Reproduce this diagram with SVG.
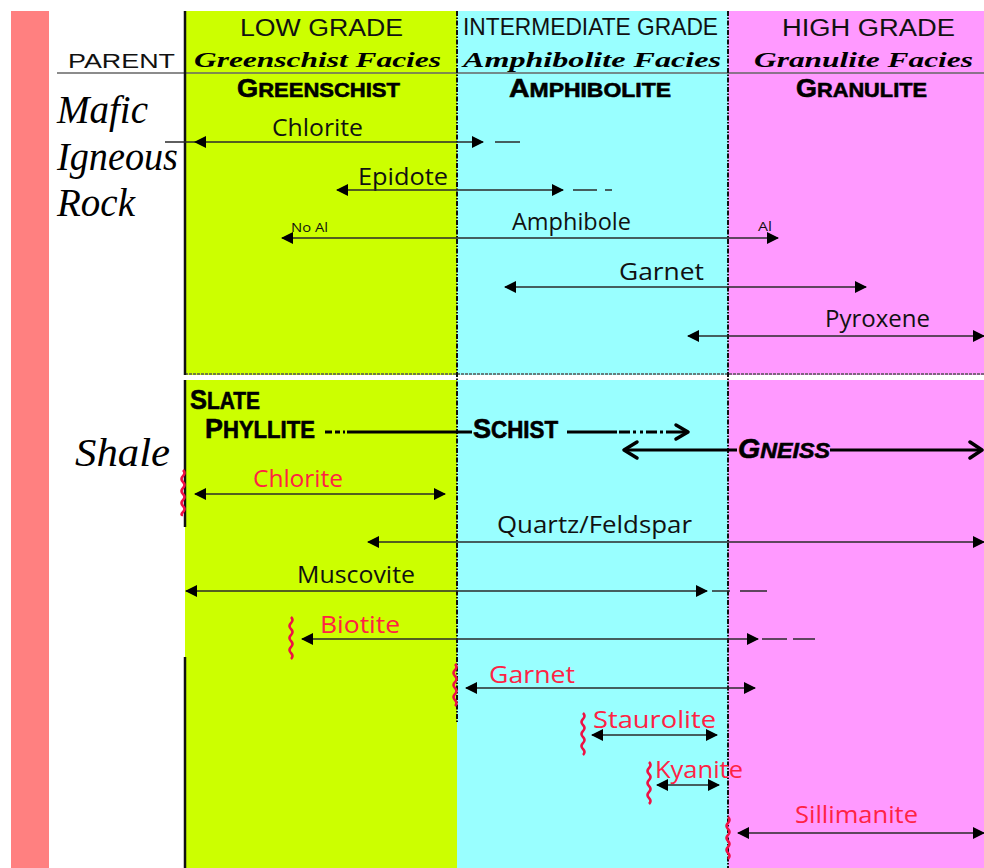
<svg xmlns="http://www.w3.org/2000/svg" width="984" height="868" viewBox="0 0 984 868">
<style>
.hdr{font-family:"Liberation Sans",Arial,sans-serif;fill:#111}
.fac{font-family:"Liberation Serif","Times New Roman",serif;font-weight:bold;font-style:italic;font-size:20px;fill:#000}
.blk{font-family:"Liberation Sans",Arial,sans-serif;font-weight:bold;fill:#000;stroke:#000;stroke-width:0.6}
.par{font-family:"Liberation Serif","Times New Roman",serif;font-style:italic;fill:#000}
.min{font-family:"Open Sans","DejaVu Sans",sans-serif;font-size:23px;fill:#111}
.red{fill:#ff2244}
.sm{font-family:"Open Sans","DejaVu Sans",sans-serif;font-size:12px;fill:#111}
.ln{stroke:#2a2a2a;stroke-width:1.5;fill:none}
.bold{stroke:#000;stroke-width:3;fill:none}
.chev{stroke:#000;stroke-width:3.5;fill:none;stroke-linecap:round;stroke-linejoin:round}
.sq{stroke:#ee1144;stroke-width:2.5;fill:none}
.div{stroke:#111;stroke-width:2;stroke-dasharray:5 1.5 1.5 1.5;fill:none}
</style>
<defs>
<marker id="ah" markerUnits="userSpaceOnUse" markerWidth="12" markerHeight="12" refX="11" refY="6" orient="auto-start-reverse" viewBox="0 0 12 12">
<path d="M0,0 L12,6 L0,12 z" fill="#000"/>
</marker>
</defs>
<rect x="0" y="0" width="984" height="868" fill="#fff"/>
<rect x="11" y="11" width="38" height="857" fill="#ff8080"/>
<g id="columns">
<rect x="185" y="11" width="272" height="364" fill="#ccff00"/>
<rect x="457" y="11" width="271" height="364" fill="#99ffff"/>
<rect x="728" y="11" width="256" height="364" fill="#ff99ff"/>
<rect x="185" y="380" width="272" height="488" fill="#ccff00"/>
<rect x="457" y="380" width="271" height="488" fill="#99ffff"/>
<rect x="728" y="380" width="256" height="488" fill="#ff99ff"/>
<line x1="185" y1="374" x2="984" y2="374" stroke="#555" stroke-width="1.5" stroke-dasharray="3 1"/>
<line x1="57" y1="73" x2="984" y2="73" stroke="#666" stroke-width="1.5"/>
<line x1="185" y1="11" x2="185" y2="375" stroke="#111" stroke-width="2.5"/>
<line x1="185" y1="380" x2="185" y2="527" stroke="#111" stroke-width="2.5"/>
<line x1="185" y1="657" x2="185" y2="868" stroke="#111" stroke-width="2.5"/>
<line class="div" x1="457" y1="11" x2="457" y2="723"/>
<line class="div" x1="728" y1="11" x2="728" y2="868"/>
</g>
<g id="header">
<text class="hdr" x="240" y="36" font-size="23" textLength="163" lengthAdjust="spacingAndGlyphs">LOW GRADE</text>
<text class="hdr" x="463" y="35" font-size="24" textLength="255" lengthAdjust="spacingAndGlyphs">INTERMEDIATE GRADE</text>
<text class="hdr" x="782" y="36" font-size="23" textLength="173" lengthAdjust="spacingAndGlyphs">HIGH GRADE</text>
<text class="hdr" x="68" y="68" font-size="21" textLength="107" lengthAdjust="spacingAndGlyphs">PARENT</text>
<text class="fac" x="194" y="67" textLength="247" lengthAdjust="spacingAndGlyphs">Greenschist Facies</text>
<text class="fac" x="463" y="67" textLength="258" lengthAdjust="spacingAndGlyphs">Amphibolite Facies</text>
<text class="fac" x="754" y="67" textLength="219" lengthAdjust="spacingAndGlyphs">Granulite Facies</text>
<text class="blk" x="237" y="97" textLength="163" lengthAdjust="spacingAndGlyphs"><tspan font-size="26">G</tspan><tspan font-size="21">REENSCHIST</tspan></text>
<text class="blk" x="509" y="97" textLength="162" lengthAdjust="spacingAndGlyphs"><tspan font-size="26">A</tspan><tspan font-size="21">MPHIBOLITE</tspan></text>
<text class="blk" x="796" y="97" textLength="131" lengthAdjust="spacingAndGlyphs"><tspan font-size="26">G</tspan><tspan font-size="21">RANULITE</tspan></text>
</g>
<g id="parents">
<text class="par" x="57" y="123" font-size="39">Mafic</text>
<text class="par" x="57" y="170" font-size="39" textLength="121" lengthAdjust="spacingAndGlyphs">Igneous</text>
<text class="par" x="57" y="216" font-size="39">Rock</text>
<text class="par" x="75" y="466" font-size="40" textLength="95" lengthAdjust="spacingAndGlyphs">Shale</text>
</g>
<g id="rocks">
<text class="blk" x="190" y="409" textLength="70" lengthAdjust="spacingAndGlyphs"><tspan font-size="28">S</tspan><tspan font-size="23">LATE</tspan></text>
<text class="blk" x="205" y="438" textLength="110" lengthAdjust="spacingAndGlyphs"><tspan font-size="28">P</tspan><tspan font-size="23">HYLLITE</tspan></text>
<text class="blk" x="473" y="438" textLength="85" lengthAdjust="spacingAndGlyphs"><tspan font-size="28">S</tspan><tspan font-size="23">CHIST</tspan></text>
<text class="blk" x="738" y="458" font-style="italic" textLength="92" lengthAdjust="spacingAndGlyphs"><tspan font-size="27">G</tspan><tspan font-size="22">NEISS</tspan></text>
</g>
<g id="labels">
<text class="min" x="272" y="136" textLength="91" lengthAdjust="spacingAndGlyphs">Chlorite</text>
<text class="min" x="358" y="185" textLength="90" lengthAdjust="spacingAndGlyphs">Epidote</text>
<text class="sm" x="291" y="232" textLength="37" lengthAdjust="spacingAndGlyphs">No Al</text>
<text class="min" x="512" y="230" textLength="119" lengthAdjust="spacingAndGlyphs">Amphibole</text>
<text class="sm" x="758" y="231" textLength="14" lengthAdjust="spacingAndGlyphs">Al</text>
<text class="min" x="619" y="280" textLength="85" lengthAdjust="spacingAndGlyphs">Garnet</text>
<text class="min" x="825" y="327" textLength="105" lengthAdjust="spacingAndGlyphs">Pyroxene</text>
<text class="min red" x="253" y="487" textLength="90" lengthAdjust="spacingAndGlyphs">Chlorite</text>
<text class="min" x="497" y="533" textLength="195" lengthAdjust="spacingAndGlyphs">Quartz/Feldspar</text>
<text class="min" x="297" y="583" textLength="118" lengthAdjust="spacingAndGlyphs">Muscovite</text>
<text class="min red" x="320" y="633" textLength="80" lengthAdjust="spacingAndGlyphs">Biotite</text>
<text class="min red" x="489" y="683" textLength="86" lengthAdjust="spacingAndGlyphs">Garnet</text>
<text class="min red" x="593" y="728" textLength="123" lengthAdjust="spacingAndGlyphs">Staurolite</text>
<text class="min red" x="655" y="778" textLength="88" lengthAdjust="spacingAndGlyphs">Kyanite</text>
<text class="min red" x="795" y="823" textLength="123" lengthAdjust="spacingAndGlyphs">Sillimanite</text>
</g>
<g id="connectors">
<line class="ln" x1="165" y1="142" x2="195" y2="142"/>
<line class="ln" x1="195" y1="142" x2="483" y2="142" marker-start="url(#ah)" marker-end="url(#ah)"/>
<line class="ln" x1="495" y1="142" x2="520" y2="142"/>
<line class="ln" x1="337" y1="190" x2="563" y2="190" marker-start="url(#ah)" marker-end="url(#ah)"/>
<line class="ln" x1="573" y1="190" x2="597" y2="190"/>
<line class="ln" x1="605" y1="190" x2="612" y2="190"/>
<line class="ln" x1="282" y1="238" x2="778" y2="238" marker-start="url(#ah)" marker-end="url(#ah)"/>
<line class="ln" x1="505" y1="287" x2="866" y2="287" marker-start="url(#ah)" marker-end="url(#ah)"/>
<line class="ln" x1="688" y1="336" x2="984" y2="336" marker-start="url(#ah)" marker-end="url(#ah)"/>
<line class="bold" x1="325" y1="432" x2="332" y2="432"/>
<line class="bold" x1="335" y1="432" x2="340" y2="432"/>
<line class="bold" x1="343" y1="432" x2="345" y2="432"/>
<line class="bold" x1="347" y1="432" x2="472" y2="432"/>
<line class="bold" x1="567" y1="432" x2="617" y2="432"/>
<path class="bold" d="M619,432 H630 M633,432 H636 M640,432 H643 M646,432 H657 M660,432 H663 M666,432 H686"/>
<path class="chev" d="M676,425 L688,432 L676,439"/>
<line class="bold" x1="624" y1="450" x2="737" y2="450"/>
<path class="chev" d="M637,442 L624,450 L637,458"/>
<line class="bold" x1="830" y1="450" x2="982" y2="450"/>
<path class="chev" d="M970,442 L982,450 L970,458"/>
<line class="ln" x1="195" y1="494" x2="445" y2="494" marker-start="url(#ah)" marker-end="url(#ah)"/>
<line class="ln" x1="368" y1="542" x2="984" y2="542" marker-start="url(#ah)" marker-end="url(#ah)"/>
<line class="ln" x1="186" y1="591" x2="707" y2="591" marker-start="url(#ah)" marker-end="url(#ah)"/>
<line class="ln" x1="712" y1="591" x2="730" y2="591"/>
<line class="ln" x1="740" y1="591" x2="767" y2="591"/>
<line class="ln" x1="302" y1="639" x2="758" y2="639" marker-start="url(#ah)" marker-end="url(#ah)"/>
<line class="ln" x1="762" y1="639" x2="787" y2="639"/>
<line class="ln" x1="793" y1="639" x2="815" y2="639"/>
<line class="ln" x1="466" y1="688" x2="755" y2="688" marker-start="url(#ah)" marker-end="url(#ah)"/>
<line class="ln" x1="592" y1="735" x2="717" y2="735" marker-start="url(#ah)" marker-end="url(#ah)"/>
<line class="ln" x1="657" y1="785" x2="719" y2="785" marker-start="url(#ah)" marker-end="url(#ah)"/>
<line class="ln" x1="738" y1="833" x2="984" y2="833" marker-start="url(#ah)" marker-end="url(#ah)"/>
<path class="sq" d="M183,470 q3,3 0,6 t0,6 t0,6 t0,6 t0,6 t0,6 t0,6 t0,3"/>
<path class="sq" d="M291,617 q3,3 0,6 t0,6 t0,6 t0,6 t0,6 t0,6 t0,6"/>
<path class="sq" d="M455,664 q3,3 0,6 t0,6 t0,6 t0,6 t0,6 t0,6 t0,6"/>
<path class="sq" d="M583,713 q3,3 0,6 t0,6 t0,6 t0,6 t0,6 t0,6 t0,6"/>
<path class="sq" d="M649,762 q3,3 0,6 t0,6 t0,6 t0,6 t0,6 t0,6 t0,6"/>
<path class="sq" d="M728,817 q3,3 0,6 t0,6 t0,6 t0,6 t0,6 t0,6 t0,6"/>
</g>
</svg>
